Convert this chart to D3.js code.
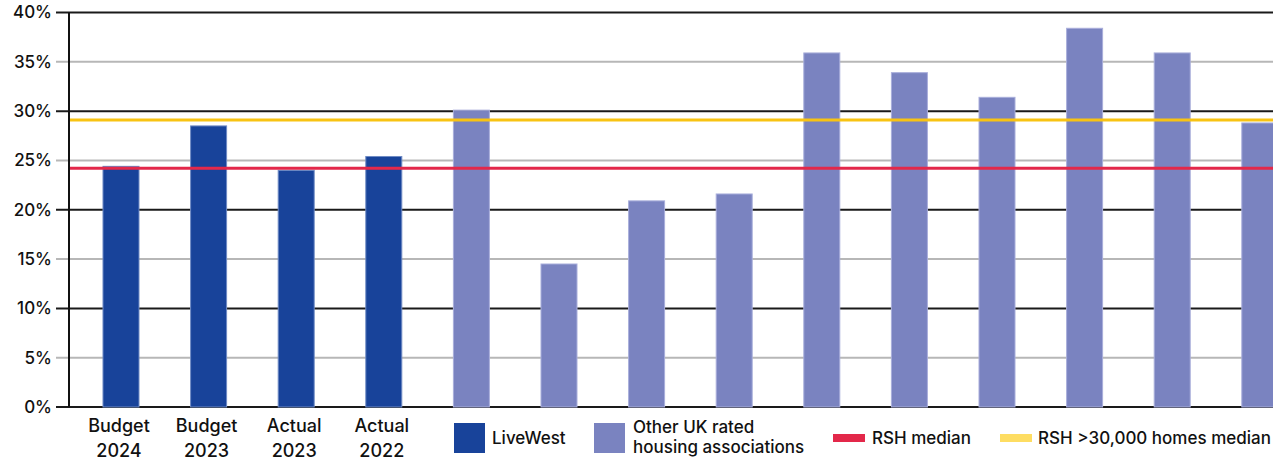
<!DOCTYPE html>
<html>
<head>
<meta charset="utf-8">
<script src="https://cdn.jsdelivr.net/npm/d3@7"></script>
<style>
  html, body { margin: 0; padding: 0; background: #fff; }
  svg { display: block; font-family: Inter, "Noto Sans", sans-serif; }
</style>
</head>
<body>
<svg id="chart" width="1273" height="462"></svg>
<script>
// Gearing: LiveWest vs other UK rated housing associations
const categories = ["Budget 2024", "Budget 2023", "Actual 2023", "Actual 2022",
  "HA1", "HA2", "HA3", "HA4", "HA5", "HA6", "HA7", "HA8", "HA9", "HA10"];
const groups = ["LiveWest", "LiveWest", "LiveWest", "LiveWest",
  "Other", "Other", "Other", "Other", "Other", "Other", "Other", "Other", "Other", "Other"];
const values = [24.4, 28.5, 24.0, 25.4, 30.1, 14.5, 20.9, 21.6, 35.9, 33.9, 31.4, 38.4, 35.9, 28.8];
const xLabels = [["Budget", "2024"], ["Budget", "2023"], ["Actual", "2023"], ["Actual", "2022"],
  null, null, null, null, null, null, null, null, null, null];
const yTicks = [0, 5, 10, 15, 20, 25, 30, 35, 40];
const rshMedian = 24.2;
const rshLargeMedian = 29.1;

const colors = { LiveWest: "#18439a", Other: "#7a83c0" };
const strokeColors = { LiveWest: "#6f8bc4", Other: "#a9aedb" };
const redColor = "#e3284a";
const yellowLine = "#f8c313";
const yellowSwatch = "#fedd62";

const svg = d3.select("#chart");
const axisX = 69;
const y = d3.scaleLinear().domain([0, 40]).range([407, 12.5]);
const x = d3.scaleBand()
  .domain(categories)
  .range([axisX, 1311.8])
  .paddingInner(0.589)
  .paddingOuter(0.388);

// gridlines
svg.append("g").selectAll("line")
  .data(yTicks)
  .join("line")
  .attr("x1", 56)
  .attr("x2", 1273)
  .attr("y1", d => y(d))
  .attr("y2", d => y(d))
  .attr("stroke", d => d % 10 === 0 ? "#1a1a1a" : "#b7b7b7")
  .attr("stroke-width", 2);

// y tick labels
svg.append("g").selectAll("text")
  .data(yTicks)
  .join("text")
  .attr("x", 52)
  .attr("y", d => y(d))
  .attr("dy", "0.35em")
  .attr("text-anchor", "end")
  .attr("font-size", 17)
  .attr("font-weight", 500)
  .attr("fill", "#111")
  .text(d => d + "%");

// bars
svg.append("g").selectAll("rect")
  .data(values)
  .join("rect")
  .attr("x", (d, i) => x(categories[i]))
  .attr("width", x.bandwidth())
  .attr("y", d => y(d))
  .attr("height", d => y(0) - y(d))
  .attr("fill", (d, i) => colors[groups[i]])
  .attr("stroke", (d, i) => strokeColors[groups[i]])
  .attr("stroke-width", 1);

// median reference lines
svg.append("line")
  .attr("x1", axisX).attr("x2", 1273)
  .attr("y1", y(rshLargeMedian)).attr("y2", y(rshLargeMedian))
  .attr("stroke", yellowLine).attr("stroke-width", 3);
svg.append("line")
  .attr("x1", axisX).attr("x2", 1273)
  .attr("y1", y(rshMedian)).attr("y2", y(rshMedian))
  .attr("stroke", redColor).attr("stroke-width", 3);

// y axis line
svg.append("line")
  .attr("x1", axisX).attr("x2", axisX)
  .attr("y1", y(40)).attr("y2", y(0))
  .attr("stroke", "#111").attr("stroke-width", 2);

// x category labels
const xl = svg.append("g").selectAll("text")
  .data(categories.map((c, i) => ({ c, lab: xLabels[i] })).filter(d => d.lab))
  .join("text")
  .attr("x", d => x(d.c) + x.bandwidth() / 2 - 2)
  .attr("text-anchor", "middle")
  .attr("font-size", 18)
  .attr("font-weight", 500)
  .attr("fill", "#111");
xl.append("tspan").attr("y", 432).attr("x", d => x(d.c) + x.bandwidth() / 2 - 2).text(d => d.lab[0]);
xl.append("tspan").attr("y", 457).attr("x", d => x(d.c) + x.bandwidth() / 2 - 2).text(d => d.lab[1]);

// legend
const legend = svg.append("g").attr("font-size", 17).attr("font-weight", 500).attr("fill", "#111");
legend.append("rect").attr("x", 454).attr("y", 423).attr("width", 31).attr("height", 30).attr("fill", colors.LiveWest);
legend.append("text").attr("x", 492).attr("y", 444).text("LiveWest");
legend.append("rect").attr("x", 594).attr("y", 423).attr("width", 31).attr("height", 30).attr("fill", colors.Other);
legend.append("text").attr("x", 633).attr("y", 433).text("Other UK rated");
legend.append("text").attr("x", 633).attr("y", 453).text("housing associations");
legend.append("rect").attr("x", 833).attr("y", 434).attr("width", 32).attr("height", 8).attr("fill", redColor);
legend.append("text").attr("x", 872).attr("y", 444).text("RSH median");
legend.append("rect").attr("x", 1000).attr("y", 434).attr("width", 32).attr("height", 8).attr("fill", yellowSwatch);
legend.append("text").attr("x", 1038).attr("y", 444).text("RSH >30,000 homes median");
</script>
</body>
</html>
